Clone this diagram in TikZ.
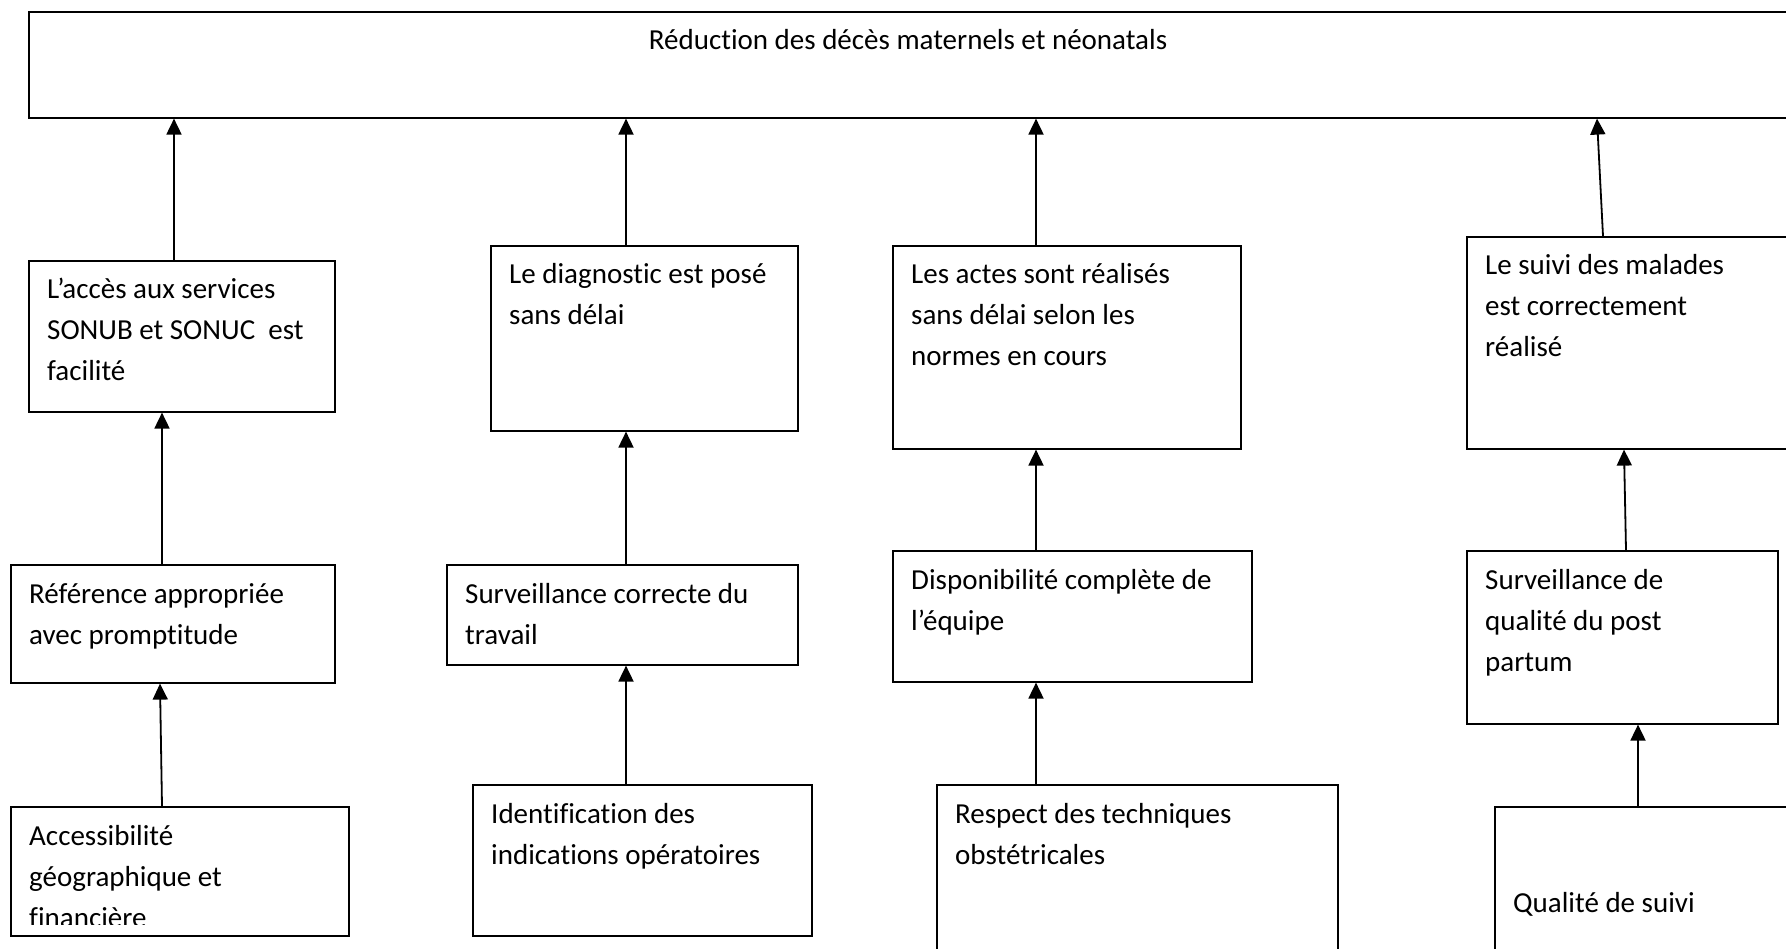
\documentclass[tikz,border=0pt]{standalone}
\usepackage{fontspec}
\setmainfont{Carlito}[Ligatures=NoCommon]
\usetikzlibrary{arrows.meta}
\newcommand\ml[1]{\begin{tabular}[t]{@{}l@{}}#1\end{tabular}}
\begin{document}
\begin{tikzpicture}[x=1pt,y=-1pt,
  box/.style={draw,line width=1.6pt,inner sep=0pt,anchor=north west},
  txt/.style={inner sep=0pt,anchor=base west,font=\fontsize{29}{41}\selectfont},
  arr/.style={line width=1.8pt,-{Triangle[width=15pt,length=16pt]}}]
\useasboundingbox (0,0) rectangle (1786,949);
\clip (0,0) rectangle (1786,949);
% boxes
\node[box,minimum width=1800pt,minimum height=106pt] (T) at (28,11) {};
\node[box,minimum width=306pt,minimum height=151pt] (A1) at (28,260) {};
\node[box,minimum width=324pt,minimum height=118pt] (A2) at (10,564) {};
\node[box,minimum width=338pt,minimum height=129pt] (A3) at (10,806) {};
\node[box,minimum width=307pt,minimum height=185pt] (B1) at (490,245) {};
\node[box,minimum width=351pt,minimum height=100pt] (B2) at (446,564) {};
\node[box,minimum width=339pt,minimum height=151pt] (B3) at (472,784) {};
\node[box,minimum width=348pt,minimum height=203pt] (C1) at (892,245) {};
\node[box,minimum width=359pt,minimum height=131pt] (C2) at (892,550) {};
\node[box,minimum width=401pt,minimum height=300pt] (C3) at (936,784) {};
\node[box,minimum width=400pt,minimum height=212pt] (D1) at (1466,236) {};
\node[box,minimum width=311pt,minimum height=173pt] (D2) at (1466,550) {};
\node[box,minimum width=400pt,minimum height=300pt] (D3) at (1494,806) {};
% texts
\node[txt,anchor=base] (tT) at (908,50) {Réduction des décès maternels et néonatals};
\node[txt] (tA1) at (47,299) {\ml{L’accès aux services\\SONUB et SONUC~ est\\facilité}};
\node[txt] (tA2) at (29,603) {\ml{Référence appropriée\\avec promptitude}};
\begin{scope}
\clip (0,800) rectangle (400,924);
\node[txt] (tA3) at (29,845) {\ml{Accessibilité\\géographique et\\financière}};
\end{scope}
\node[txt] (tB1) at (509,284) {\ml{Le diagnostic est posé\\sans délai}};
\node[txt] (tB2) at (465,603) {\ml{Surveillance correcte du\\travail}};
\node[txt] (tB3) at (491,823) {\ml{Identification des\\indications opératoires}};
\node[txt] (tC1) at (911,284) {\ml{Les actes sont réalisés\\sans délai selon les\\normes en cours}};
\node[txt] (tC2) at (911,589) {\ml{Disponibilité complète de\\l’équipe}};
\node[txt] (tC3) at (955,823) {\ml{Respect des techniques\\obstétricales}};
\node[txt] (tD1) at (1485,275) {\ml{Le suivi des malades\\est correctement\\réalisé}};
\node[txt] (tD2) at (1485,589) {\ml{Surveillance de\\qualité du post\\partum}};
\node[txt] (tD3) at (1513,912) {Qualité de suivi};
% connectors
\draw[arr] ([xshift=146pt]A1.north west) -- ([xshift=146pt]T.south west);
\draw[arr] ([xshift=152pt]A2.north west) -- ([xshift=134pt]A1.south west);
\draw[arr] ([xshift=152pt]A3.north west) -- ([xshift=150pt]A2.south west);
\draw[arr] ([xshift=136pt]B1.north west) -- ([xshift=598pt]T.south west);
\draw[arr] ([xshift=180pt]B2.north west) -- ([xshift=136pt]B1.south west);
\draw[arr] ([xshift=154pt]B3.north west) -- ([xshift=180pt]B2.south west);
\draw[arr] ([xshift=144pt]C1.north west) -- ([xshift=1008pt]T.south west);
\draw[arr] ([xshift=144pt]C2.north west) -- ([xshift=144pt]C1.south west);
\draw[arr] ([xshift=100pt]C3.north west) -- ([xshift=144pt]C2.south west);
\draw[arr] ([xshift=137pt]D1.north west) -- ([xshift=1569pt]T.south west);
\draw[arr] ([xshift=160pt]D2.north west) -- ([xshift=158pt]D1.south west);
\draw[arr] ([xshift=144pt]D3.north west) -- ([xshift=172pt]D2.south west);
\end{tikzpicture}
\end{document}
